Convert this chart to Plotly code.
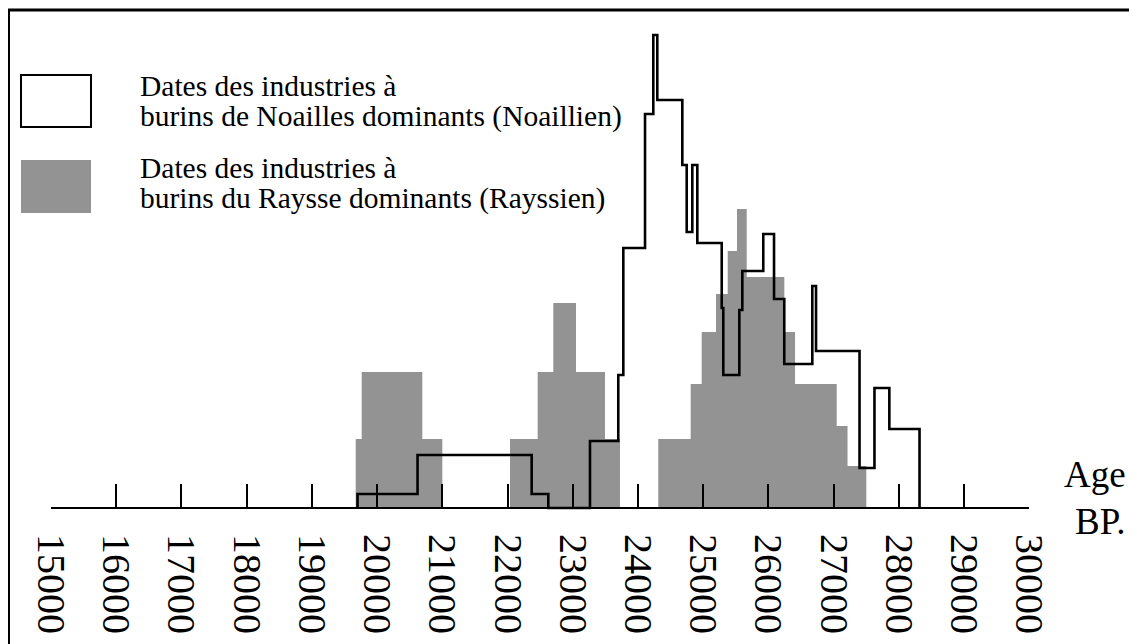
import plotly.graph_objects as go

# ---- data (years BP; heights in arbitrary units) ----
tick_values = [15000, 16000, 17000, 18000, 19000, 20000, 21000, 22000,
               23000, 24000, 25000, 26000, 27000, 28000, 29000, 30000]
tick_labels = [str(v) for v in tick_values]

# Noaillien (outline step curve): bin edges and heights
noaillien_edges = [19700, 20620, 22370, 22625, 23264, 23698, 23775, 24108, 24235,
                   24296, 24680, 24747, 24833, 24910, 25284, 25308, 25554, 25600,
                   25921, 26086, 26243, 26673, 26730, 27397, 27626, 27854, 28317]
noaillien_heights = [14, 53, 14, 0, 67, 133, 260, 394, 473, 408, 343, 276, 343,
                     265, 200, 133, 198, 237, 274, 209, 144, 222, 157, 40, 120, 79]

# Rayssien (filled step histogram): bin edges and heights
rayssien_edges = [19672, 19764, 20693, 21000, 22038, 22462, 22702, 23050, 23494,
                  23724, 24311, 24808, 24977, 25196, 25376, 25518, 25667, 26244,
                  26408, 27047, 27213, 27501]
rayssien_heights = [69, 136, 69, 0, 69, 136, 205, 136, 69, 0, 69, 124, 176, 214,
                    257, 299, 231, 176, 124, 82, 42]

legend_lines_1 = ["Dates des industries à", "burins de Noailles dominants (Noaillien)"]
legend_lines_2 = ["Dates des industries à", "burins du Raysse dominants (Rayssien)"]
axis_title = ["Age", "BP."]

W, H = 1137, 644
OFF = 8  # page offset of the plot div (body margin)
GRAY = "#939393"
SERIF = "Liberation Serif"


def step_path(edges, heights):
    xs = [edges[0]] + list(edges[:-1]) + [edges[-1]]
    ys = [0] + list(heights) + [0]
    return xs, ys


fig = go.Figure()

rx, ry = step_path(rayssien_edges, rayssien_heights)
fig.add_trace(go.Scatter(x=rx, y=ry, mode="lines", line_shape="hv",
                         line=dict(width=0, color=GRAY), fill="tozeroy",
                         fillcolor=GRAY, hoverinfo="skip", showlegend=False))

nx, ny = step_path(noaillien_edges, noaillien_heights)
fig.add_trace(go.Scatter(x=nx, y=ny, mode="lines", line_shape="hv",
                         line=dict(width=2.6, color="black"),
                         hoverinfo="skip", showlegend=False))

# page-pixel positions of the axis (measured on the reference)
baseline_page = 508
x15000_page, x30000_page = 51, 1029.3
base = baseline_page - OFF

fig.update_layout(
    template="none",
    width=W, height=H,
    font=dict(family=SERIF, color="black"),
    margin=dict(l=0, r=0, t=0, b=0, autoexpand=False),
    paper_bgcolor="white", plot_bgcolor="rgba(0,0,0,0)",
    showlegend=False,
    xaxis=dict(
        domain=[(x15000_page - OFF) / W, (x30000_page - OFF) / W],
        range=[15000, 30000],
        anchor="free", position=(H - base) / H, automargin=False,
        showline=True, linecolor="black", linewidth=2,
        ticks="inside", ticklen=23, tickwidth=2, tickcolor="black",
        tickvals=tick_values, ticktext=tick_labels, tickangle=90,
        tickfont=dict(family=SERIF, size=40, color="black"),
        ticklabelstandoff=17,
        showgrid=False, zeroline=False, fixedrange=True,
    ),
    yaxis=dict(domain=[0, 1], range=[-(H - base), base], automargin=False,
               visible=False, fixedrange=True),
)


def px(x):
    return (x - OFF) / W


def py(y):
    return 1 - (y - OFF) / H


# border (left and top)
fig.add_shape(type="line", xref="paper", yref="paper", x0=px(8.5), x1=px(8.5),
              y0=py(9), y1=py(H + 20), line=dict(color="black", width=3))
fig.add_shape(type="line", xref="paper", yref="paper", x0=px(7), x1=px(W + 20),
              y0=py(10), y1=py(10), line=dict(color="black", width=3))

# legend boxes
fig.add_shape(type="rect", xref="paper", yref="paper", x0=px(21), x1=px(91),
              y0=py(75), y1=py(127), line=dict(color="black", width=2),
              fillcolor="white")
fig.add_shape(type="rect", xref="paper", yref="paper", x0=px(21), x1=px(91),
              y0=py(160), y1=py(213), line=dict(width=0), fillcolor=GRAY)

legend_font = dict(family=SERIF, size=29.5, color="black")
for txt, yc in zip(legend_lines_1 + legend_lines_2, [86, 117, 168, 199]):
    fig.add_annotation(xref="paper", yref="paper", x=px(138), y=py(yc),
                       text=txt, showarrow=False, xanchor="left",
                       yanchor="middle", font=legend_font)

for txt, (xc, yc) in zip(axis_title, [(1095, 474), (1100, 521)]):
    fig.add_annotation(xref="paper", yref="paper", x=px(xc), y=py(yc),
                       text=txt, showarrow=False, xanchor="center",
                       yanchor="middle",
                       font=dict(family=SERIF, size=37, color="black"))

fig.write_html("out.html")
